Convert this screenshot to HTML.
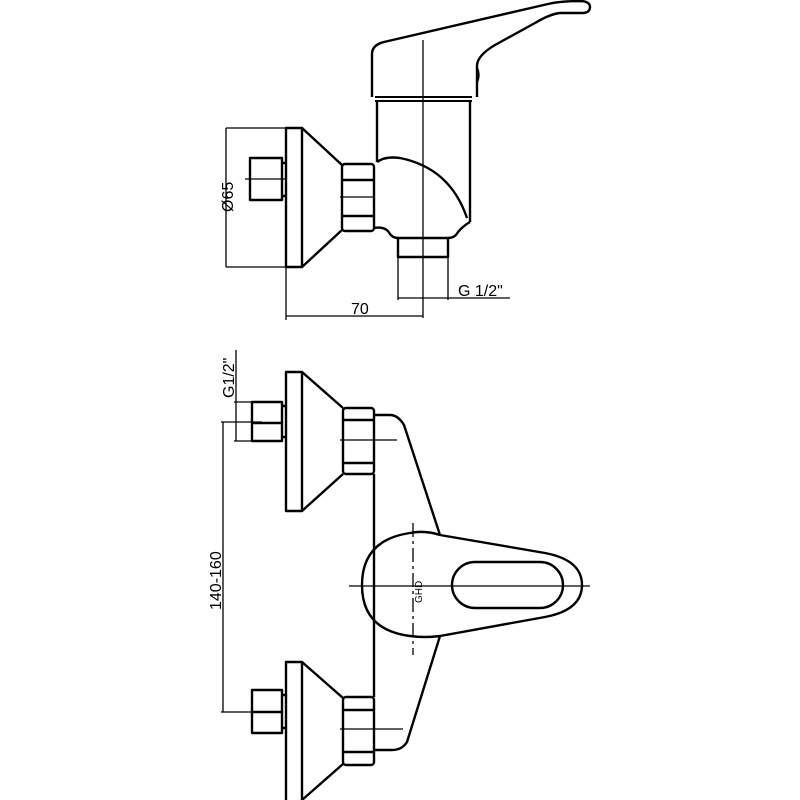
<!DOCTYPE html>
<html><head><style>html,body{margin:0;padding:0;background:#fff}svg{display:block}</style></head>
<body>
<svg width="800" height="800" viewBox="0 0 800 800" xmlns="http://www.w3.org/2000/svg" font-family="Liberation Sans, sans-serif">
<g fill="none" stroke="#000" stroke-width="2.4" stroke-linejoin="round">
<!-- TOP VIEW -->
<rect x="286" y="128" width="16" height="139"/>
<path d="M302 128 L342 165 M302 267 L342 230"/>
<rect x="342" y="164" width="32" height="67" rx="3"/>
<path d="M343 180 H373 M343 216 H373"/>
<rect x="250" y="158" width="32" height="42"/>
<path d="M282 163 H286 M282 196 H286"/>
<!-- body -->
<path d="M377 100 V162 M470 100 V222"/>
<path d="M377 162 Q385 156 400 158 Q450 168 467 218"/>
<path d="M374 228 Q386 226 390 234 Q393 238 398 238 M448 238 Q455 238 458 232 Q463 226 470 222"/>
<rect x="398" y="238" width="50" height="19"/>
<path d="M375 97 H472 M375 101 H472" stroke-width="2"/>
<!-- handle -->
<path d="M372 97 V54 Q372 45 384 42 L548 4 Q560 1 582 1 Q590 2 590 7 Q590 13 582 13 L560 13 Q550 14 535 23 L495 45 Q478 55 477 65 L477 97"/>
<path d="M477 68 Q480 75 477 82"/>
<!-- dimensions top -->
<g stroke-width="1.3">
<path d="M423 40 V318"/>
<path d="M226 128 V267 M226 128 H286 M226 267 H286"/>
<path d="M245 179 H285 M340 197 H375"/>
<path d="M398 257 V300 M448 257 V300 M398 298 H510"/>
<path d="M286 267 V320 M286 316 H423"/>
</g>
<!-- BOTTOM VIEW -->
<rect x="286" y="372" width="16" height="139"/>
<path d="M302 372 L343 408 M302 511 L343 474"/>
<rect x="343" y="408" width="31" height="66" rx="3"/>
<path d="M344 420 H373 M344 463 H373"/>
<rect x="252" y="402" width="30" height="39"/>
<path d="M253 423 H281 M282 406 H286 M282 437 H286"/>
<rect x="286" y="662" width="16" height="145"/>
<path d="M302 662 L343 698 M302 800 L343 764"/>
<rect x="343" y="697" width="31" height="68" rx="3"/>
<path d="M344 710 H373 M344 752 H373"/>
<rect x="252" y="690" width="30" height="43"/>
<path d="M253 712 H281 M282 695 H286 M282 728 H286"/>
<!-- body outline -->
<path d="M374 474 V697"/>
<path d="M374 415 H390 Q398 415 404 425 L440 535"/>
<path d="M440 636 L407 742 Q402 750 392 750 H374"/>
<!-- lever -->
<path d="M440 535 Q425 530 410 533 Q362 540 362 585 Q362 630 410 636 Q425 638 440 636 L545 617 Q582 610 582 585 Q582 560 545 553 Z"/>
<rect x="452" y="562" width="111" height="46" rx="23"/>
<g stroke-width="1.3">
<path d="M349 586 H590"/>
<path d="M413 523 V655" stroke-dasharray="14 4 3 4"/>
<path d="M340 440 H397 M340 729 H403"/>
<path d="M236 350 V441 M234 402 H252 M234 441 H252"/>
<path d="M223 422 V712 M221 422 H262 M221 712 H262"/>
</g>
</g>
<g fill="#000" font-size="16">
<text x="351" y="314">70</text>
<text x="458" y="296">G 1/2"</text>
<text transform="translate(233,212) rotate(-90)">Ø65</text>
<text transform="translate(234,398) rotate(-90)">G1/2"</text>
<text transform="translate(221,610) rotate(-90)">140-160</text>
<text transform="translate(422,603) rotate(-90)" font-size="10">GHD</text>
</g>
</svg>
</body></html>
